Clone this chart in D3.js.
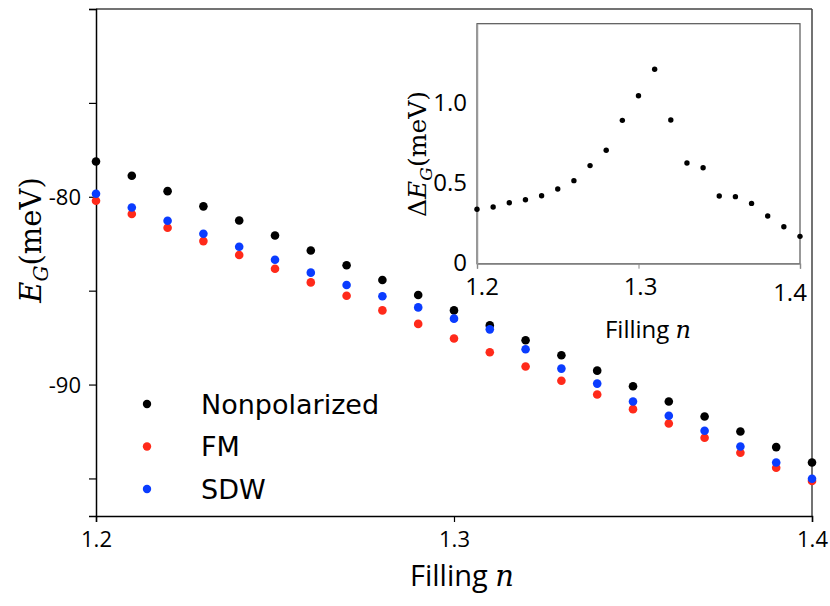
<!DOCTYPE html>
<html>
<head>
<meta charset="utf-8">
<script src="https://cdn.jsdelivr.net/npm/d3@7"></script>
<style>
  body { margin: 0; background: #fff; }
  svg { display: block; }
  .tick text { font-family: "Open Sans", "Noto Sans", sans-serif; }
</style>
</head>
<body>
<div id="vis"></div>
<script>
// filling values shared by the main plot and the inset
let filling = [1.20, 1.21, 1.22, 1.23, 1.24, 1.25, 1.26, 1.27, 1.28, 1.29, 1.30,
               1.31, 1.32, 1.33, 1.34, 1.35, 1.36, 1.37, 1.38, 1.39, 1.40];

// ground state energy (meV)
let nonpolarized = [-78.12, -78.88, -79.70, -80.51, -81.26, -82.06, -82.86, -83.65, -84.43, -85.23, -86.05,
                    -86.85, -87.64, -88.44, -89.26, -90.09, -90.90, -91.70, -92.50, -93.33, -94.15];
let fm = [-80.21, -80.92, -81.65, -82.36, -83.10, -83.83, -84.56, -85.27, -86.05, -86.77, -87.55,
          -88.28, -89.04, -89.80, -90.53, -91.31, -92.07, -92.83, -93.63, -94.43, -95.14];
let sdw = [-79.84, -80.57, -81.28, -81.97, -82.66, -83.35, -84.04, -84.70, -85.30, -85.89, -86.49,
           -87.06, -88.12, -89.15, -89.95, -90.90, -91.66, -92.46, -93.30, -94.15, -95.02];

// inset: energy difference (meV)
let deltaE = [0.34, 0.354, 0.381, 0.40, 0.425, 0.467, 0.519, 0.613, 0.709, 0.896, 1.05,
              1.215, 0.898, 0.629, 0.60, 0.423, 0.419, 0.377, 0.298, 0.231, 0.171];

let xTicks = [1.2, 1.3, 1.4];
let yTicks = [-70, -75, -80, -85, -90, -95];
let yTickLabels = {"-80": "-80", "-90": "-90"};
let insetYTicks = [0, 0.5, 1.0];
let insetYTickLabels = ["0", "0.5", "1.0"];

let series = [
  {name: "Nonpolarized", values: nonpolarized, color: "#000000"},
  {name: "FM", values: fm, color: "#ff2a1a"},
  {name: "SDW", values: sdw, color: "#0a3cff"}
];

let W = 830, H = 606;
let margin = {top: 9, left: 96, right: 18, bottom: 90};

let svg = d3.select('#vis')
  .append('svg')
  .attr('width', W)
  .attr('height', H)
  .style('background-color', 'white');

let x = d3.scaleLinear().domain([1.2, 1.4]).range([margin.left, W - margin.right]);
let y = d3.scaleLinear().domain([-97, -70]).range([H - margin.bottom, margin.top]);

// frame: top and right a bit lighter
svg.append('line')
  .attr('x1', x(1.2)).attr('x2', x(1.4))
  .attr('y1', y(-70)).attr('y2', y(-70))
  .attr('stroke', '#444').attr('stroke-width', 1.5);
svg.append('line')
  .attr('x1', x(1.4)).attr('x2', x(1.4))
  .attr('y1', y(-70)).attr('y2', y(-97))
  .attr('stroke', '#444').attr('stroke-width', 1.5);

// axes
let xAxis = svg.append('g')
  .attr('transform', `translate(0,${y(-97)})`)
  .call(d3.axisBottom(x).tickValues(xTicks).tickFormat(d3.format('.1f')).tickSize(6).tickPadding(6));
let yAxis = svg.append('g')
  .attr('transform', `translate(${x(1.2)},0)`)
  .call(d3.axisLeft(y).tickValues(yTicks).tickFormat(d => yTickLabels[d] || '').tickSize(7).tickPadding(8));

[xAxis, yAxis].forEach(g => {
  g.select('.domain').attr('stroke', '#000').attr('stroke-width', 1.5);
  g.selectAll('.tick line').attr('stroke', '#000').attr('stroke-width', 1.2);
  g.selectAll('.tick text').attr('fill', '#000').style('font-size', '22px');
});
xAxis.selectAll('.tick text').attr('dy', '0.85em');
yAxis.selectAll('.tick text').attr('dy', '0.36em');

// points
series.forEach(s => {
  svg.append('g')
    .selectAll('circle')
    .data(filling)
    .join('circle')
    .attr('cx', (d, i) => x(d))
    .attr('cy', (d, i) => y(s.values[i]))
    .attr('r', 4.3)
    .attr('fill', s.color);
});

// axis titles
let xTitle = svg.append('text')
  .attr('x', 462).attr('y', 586)
  .attr('text-anchor', 'middle')
  .style('font-family', '"Open Sans", "Noto Sans", sans-serif')
  .style('font-size', '29px');
xTitle.append('tspan').text('Filling ');
xTitle.append('tspan').style('font-family', '"DejaVu Serif", serif').style('font-style', 'italic').text('n');

let yTitle = svg.append('text')
  .attr('transform', 'translate(41,240) rotate(-90)')
  .attr('text-anchor', 'middle')
  .style('font-family', '"DejaVu Serif", "Liberation Serif", serif')
  .style('font-size', '29px');
yTitle.append('tspan').style('font-style', 'italic').text('E');
yTitle.append('tspan').style('font-style', 'italic').style('font-size', '20px').attr('dy', 7).text('G');
yTitle.append('tspan').attr('dy', -7).text('(meV)');

// legend
let legend = svg.append('g');
series.forEach((s, i) => {
  let ly = 404 + i * 42.5;
  legend.append('circle')
    .attr('cx', 147).attr('cy', ly)
    .attr('r', 4.2).attr('fill', s.color);
  legend.append('text')
    .attr('x', 201).attr('y', ly + 9.5)
    .style('font-family', '"DejaVu Sans", sans-serif')
    .style('font-size', '27px')
    .text(s.name);
});

// inset
let ix = d3.scaleLinear().domain([1.2, 1.4]).range([477, 800]);
let iy = d3.scaleLinear().domain([0, 1.5]).range([263.7, 23.7]);

let inset = svg.append('g');
inset.append('rect')
  .attr('x', ix(1.2)).attr('y', iy(1.5))
  .attr('width', ix(1.4) - ix(1.2)).attr('height', iy(0) - iy(1.5))
  .attr('fill', 'white').attr('stroke', '#555').attr('stroke-width', 1.2);

let ixAxis = inset.append('g')
  .attr('transform', `translate(0,${iy(0)})`)
  .call(d3.axisBottom(ix).tickValues(xTicks).tickFormat('').tickSize(5));
let iyAxis = inset.append('g')
  .attr('transform', `translate(${ix(1.2)},0)`)
  .call(d3.axisLeft(iy).tickValues(insetYTicks).tickFormat('').tickSize(0));
[ixAxis, iyAxis].forEach(g => {
  g.select('.domain').attr('stroke', '#999').attr('stroke-width', 1.5);
  g.selectAll('.tick line').attr('stroke', '#888');
});

// inset tick labels
let insetTickFont = '"Open Sans", "Noto Sans", sans-serif';
inset.append('g')
  .selectAll('text')
  .data(insetYTicks)
  .join('text')
  .attr('x', ix(1.2) - 10)
  .attr('y', d => iy(d) - 1)
  .attr('dy', '0.36em')
  .attr('text-anchor', 'end')
  .style('font-family', insetTickFont)
  .style('font-size', '24px')
  .text((d, i) => insetYTickLabels[i]);
inset.append('g')
  .selectAll('text')
  .data(xTicks)
  .join('text')
  .attr('x', d => d === 1.4 ? ix(d) - 10 : (d === 1.2 ? ix(d) + 5 : ix(d) + 2))
  .attr('y', d => d === 1.4 ? 301 : 295)
  .attr('text-anchor', 'middle')
  .style('font-family', insetTickFont)
  .style('font-size', '24px')
  .text(d => d3.format('.1f')(d));

inset.append('g')
  .selectAll('circle')
  .data(filling)
  .join('circle')
  .attr('cx', d => ix(d))
  .attr('cy', (d, i) => iy(deltaE[i]))
  .attr('r', 2.7)
  .attr('fill', '#000');

let ixTitle = inset.append('text')
  .attr('x', 648).attr('y', 338)
  .attr('text-anchor', 'middle')
  .style('font-family', insetTickFont)
  .style('font-size', '24px');
ixTitle.append('tspan').text('Filling ');
ixTitle.append('tspan').style('font-family', '"DejaVu Serif", serif').style('font-style', 'italic').text('n');

let iyTitle = inset.append('text')
  .attr('transform', 'translate(426,154) rotate(-90)')
  .attr('text-anchor', 'middle')
  .style('font-family', '"DejaVu Serif", "Liberation Serif", serif')
  .style('font-size', '25px');
iyTitle.append('tspan').text('Δ');
iyTitle.append('tspan').style('font-style', 'italic').text('E');
iyTitle.append('tspan').style('font-style', 'italic').style('font-size', '17px').attr('dy', 6).text('G');
iyTitle.append('tspan').attr('dy', -6).text('(meV)');
</script>
</body>
</html>
